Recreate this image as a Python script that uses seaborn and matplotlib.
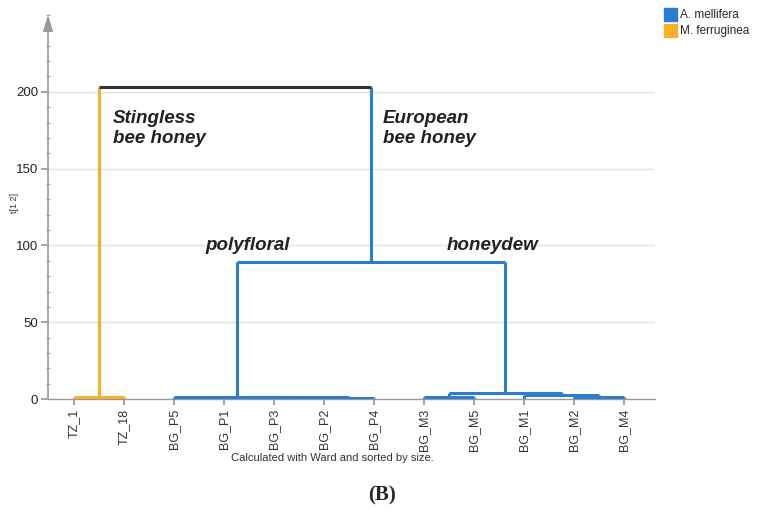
import numpy as np
import pandas as pd
import seaborn as sns
import matplotlib.pyplot as plt
from matplotlib.patches import Patch
from matplotlib.ticker import MultipleLocator

# leaves in dendrogram order
leaves = ["TZ_1", "TZ_18", "BG_P5", "BG_P1", "BG_P3", "BG_P2", "BG_P4",
          "BG_M3", "BG_M5", "BG_M1", "BG_M2", "BG_M4"]
species = ["M. ferruginea"] * 2 + ["A. mellifera"] * 10

# merges, scipy style: new cluster id = 12, 13, ...
merge_a = [0, 3, 5, 13, 2, 7, 10, 9, 17, 16, 12]
merge_b = [1, 4, 6, 14, 15, 8, 11, 18, 19, 20, 21]
merge_h = [1.3, 1.1, 0.6, 1.4, 1.6, 1.0, 1.0, 2.3, 3.9, 89, 203]

colors = {"A. mellifera": "#2a7dd1", "M. ferruginea": "#f6b12a", "mix": "#333333"}

# positions of every cluster
xpos = list(range(len(leaves)))
ypos = [0.0] * len(leaves)
grp = list(species)
segs = []
for a, b, h in zip(merge_a, merge_b, merge_h):
    g = grp[a] if grp[a] == grp[b] else "mix"
    segs.append((xpos[a], ypos[a], xpos[a], h, grp[a]))
    segs.append((xpos[b], ypos[b], xpos[b], h, grp[b]))
    segs.append((xpos[a], h, xpos[b], h, g))
    xpos.append((xpos[a] + xpos[b]) / 2)
    ypos.append(h)
    grp.append(g)

rows = []
for k, (x0, y0, x1, y1, g) in enumerate(segs):
    rows.append(dict(seg=k, x=x0, y=y0, g=g))
    rows.append(dict(seg=k, x=x1, y=y1, g=g))
df = pd.DataFrame(rows)

sns.set_theme(style="white")
plt.rcParams['font.family'] = ['Liberation Sans', 'DejaVu Sans']

fig = plt.figure(figsize=(7.67, 5.17), dpi=100)
ax = fig.add_axes([0.0626, 0.2282, 0.7914, 0.7427])

for yv in [50, 100, 150, 200]:
    ax.axhline(yv, color="#e3e3e3", lw=1, zorder=0)

sns.lineplot(data=df, x="x", y="y", units="seg", hue="g", palette=colors,
             estimator=None, sort=False, lw=2.2, legend=False, ax=ax,
             solid_capstyle="butt", zorder=3)

ax.set_xlim(-0.52, 11.62)
ax.set_ylim(0, 250)
ax.set_xticks(range(len(leaves)))
ax.set_xticklabels(leaves, rotation=90, fontsize=9, color="#333333")
ax.set_yticks([0, 50, 100, 150, 200])
ax.yaxis.set_minor_locator(MultipleLocator(10))
ax.tick_params(axis="y", which="major", direction="out", length=5, color="#999999",
               labelsize=9.5, labelcolor="#222222", left=True, pad=2)
ax.tick_params(axis="y", which="minor", direction="inout", length=3, color="#aaaaaa", left=True)
ax.tick_params(axis="x", which="major", direction="out", length=4, color="#999999",
               bottom=True, pad=3)
ax.set_xlabel("")
ax.set_ylabel("t[1 2]", fontsize=6.5, color="#333333")
ax.yaxis.set_label_coords(-0.047, 0.51)

for s in ["top", "right", "left"]:
    ax.spines[s].set_visible(False)
ax.spines["bottom"].set_color("#999999")
ax.spines["bottom"].set_linewidth(1)
ax.annotate("", xy=(0, 1.0), xytext=(0, 0), xycoords="axes fraction",
            arrowprops=dict(arrowstyle="-|>,head_length=0.8,head_width=0.25",
                            color="#999999", lw=1.2, shrinkA=0, shrinkB=0))

tstyle = dict(fontsize=13.5, fontweight="bold", fontstyle="italic", color="#222222")
ax.text(0.78, 176, "Stingless\nbee honey", va="center", ha="left", linespacing=1.25, **tstyle)
ax.text(6.18, 176, "European\nbee honey", va="center", ha="left", linespacing=1.25, **tstyle)
ax.text(2.62, 100, "polyfloral", va="center", ha="left", **tstyle)
ax.text(7.46, 100, "honeydew", va="center", ha="left", **tstyle)

fig.text(332 / 767, 1 - 458 / 517, "Calculated with Ward and sorted by size.",
         ha="center", va="center", fontsize=8, color="#333333")
fig.text(382 / 767, 1 - 495 / 517, "(B)", ha="center", va="center", fontsize=15,
         fontweight="bold", family=["Liberation Serif", "DejaVu Serif"])

handles = [Patch(color=colors["A. mellifera"], label="A. mellifera"),
           Patch(color=colors["M. ferruginea"], label="M. ferruginea")]
fig.legend(handles=handles, loc="upper left", bbox_to_anchor=(659 / 767, 1 - 3 / 517),
           frameon=False, fontsize=8.5, handlelength=1.1, handleheight=1.3,
           handletextpad=0.3, labelspacing=0.25, borderaxespad=0)

fig.savefig("out.png", dpi=100)
